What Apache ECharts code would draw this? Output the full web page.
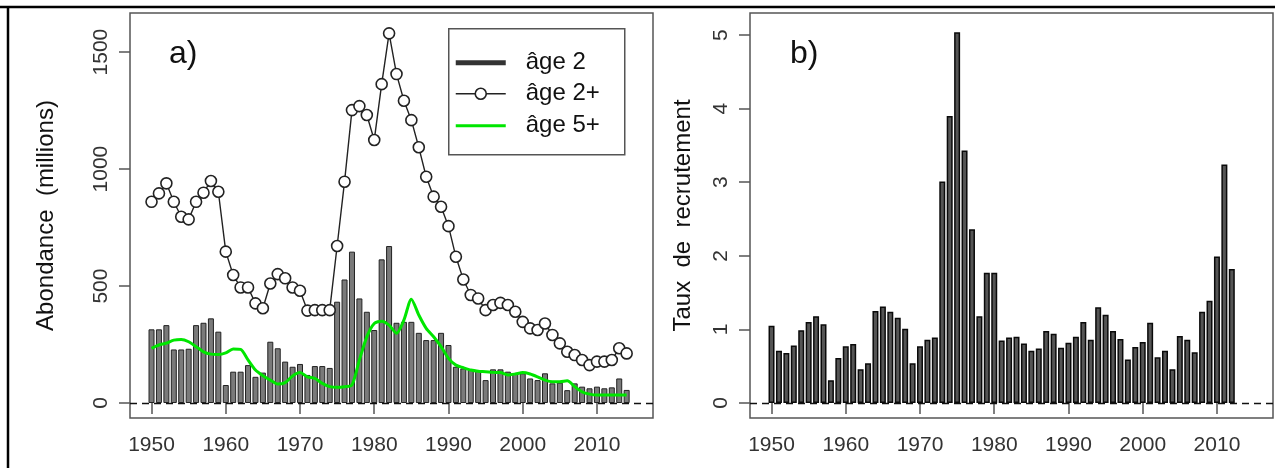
<!DOCTYPE html>
<html>
<head>
<meta charset="utf-8">
<script src="https://cdn.jsdelivr.net/npm/echarts@6/dist/echarts.min.js"></script>
<style>
  html, body { margin: 0; padding: 0; background: #fff; }
  #chart { width: 1275px; height: 468px; }
</style>
</head>
<body>
<div id="chart"></div>
<script type="text/javascript">
// abondance, 1950 -> 2014
var firstYear = 1950;
var age2 = [315, 315, 333, 229, 229, 232, 333, 343, 362, 305,
            77, 134, 134, 162, 112, 130, 262, 234, 177, 155,
            167, 120, 158, 158, 150, 433, 528, 647, 447, 390,
            312, 614, 671, 343, 347, 347, 300, 269, 269, 300,
            248, 155, 148, 141, 141, 98, 144, 144, 134, 127,
            127, 105, 98, 127, 84, 87, 55, 84, 70, 63,
            70, 63, 67, 105, 56];
var age2plus = [860, 896, 939, 860, 796, 785, 860, 899, 949, 903,
                647, 547, 494, 494, 426, 405, 511, 551, 533, 494,
                480, 395, 397, 397, 397, 671, 946, 1252, 1269, 1231,
                1124, 1363, 1580, 1406, 1292, 1209, 1093, 967, 882, 839,
                756, 625, 528, 462, 447, 397, 419, 428, 419, 390,
                347, 319, 312, 340, 291, 255, 219, 205, 184, 162,
                177, 177, 184, 234, 212];
var age5plus = [234, 248, 256, 269, 272, 262, 241, 219, 209, 207,
                214, 231, 229, 184, 141, 117, 98, 81, 87, 116,
                130, 112, 105, 84, 70, 67, 70, 77, 184, 283,
                340, 350, 333, 298, 355, 444, 376, 319, 283, 241,
                191, 162, 151, 141, 136, 134, 131, 130, 120, 124,
                130, 124, 112, 98, 91, 91, 95, 70, 48, 38,
                34, 34, 34, 34, 34];
// taux de recrutement, 1950 -> 2012
var taux = [1.05, 0.71, 0.68, 0.78, 0.99, 1.10, 1.18, 1.07, 0.31, 0.61,
            0.77, 0.80, 0.46, 0.54, 1.25, 1.31, 1.24, 1.16, 1.01, 0.54,
            0.77, 0.86, 0.89, 3.01, 3.90, 5.04, 3.43, 2.36, 1.18, 1.77,
            1.77, 0.85, 0.89, 0.90, 0.81, 0.71, 0.74, 0.98, 0.94, 0.75,
            0.82, 0.90, 1.10, 0.86, 1.30, 1.20, 0.98, 0.87, 0.59, 0.76,
            0.83, 1.09, 0.62, 0.71, 0.46, 0.91, 0.86, 0.69, 1.24, 1.39,
            1.99, 3.24, 1.82];
var yearTicks = [1950, 1960, 1970, 1980, 1990, 2000, 2010];
var abTicks = [0, 500, 1000, 1500];
var tauxTicks = [0, 1, 2, 3, 4, 5];

function pairs(vals) {
  var out = [];
  for (var i = 0; i < vals.length; i++) out.push([firstYear + i, vals[i]]);
  return out;
}
function plain(v) { return String(v); }

var font = 'Liberation Sans, Arial, sans-serif';
var chart = echarts.init(document.getElementById('chart'));

function xAx(idx) {
  return {
    type: 'value', gridIndex: idx, min: 1947.1, max: 2017.55,
    axisLine: { show: false },
    splitLine: { show: false },
    axisTick: { show: true, length: 11, customValues: yearTicks,
                lineStyle: { color: '#555', width: 1.5 } },
    axisLabel: { customValues: yearTicks, formatter: plain, margin: 17, fontSize: 21,
                 color: '#333', fontFamily: font }
  };
}
function yAx(idx, mn, mx, ticks, name, gap) {
  return {
    type: 'value', gridIndex: idx, min: mn, max: mx,
    name: name, nameLocation: 'middle', nameRotate: 90, nameGap: gap,
    nameTextStyle: { fontSize: 24, color: '#111', fontFamily: font },
    axisLine: { show: false },
    splitLine: { show: false },
    axisTick: { show: true, length: 11, customValues: ticks,
                lineStyle: { color: '#555', width: 1.5 } },
    axisLabel: { customValues: ticks, formatter: plain, rotate: 90, margin: 18, fontSize: 21,
                 color: '#333', fontFamily: font }
  };
}
var zeroLine = {
  silent: true, symbol: ['none', 'none'], label: { show: false },
  lineStyle: { color: '#111', type: [7, 5], width: 1.3 },
  data: [{ yAxis: 0 }]
};

var theoption = {
  animation: false,
  grid: [
    { left: 130, right: 622, top: 13, bottom: 50, show: true,
      borderColor: '#555', borderWidth: 1.5 },
    { left: 750, right: 2, top: 13, bottom: 50, show: true,
      borderColor: '#555', borderWidth: 1.5 }
  ],
  xAxis: [xAx(0), xAx(1)],
  yAxis: [
    yAx(0, -64, 1667, abTicks, 'Abondance  (millions)', 72),
    yAx(1, -0.204, 5.3, tauxTicks, 'Taux  de  recrutement', 55)
  ],
  series: [
    {
      name: 'âge 2', type: 'bar', xAxisIndex: 0, yAxisIndex: 0,
      barWidth: 6, data: pairs(age2),
      itemStyle: { color: '#7a7a7a', borderColor: '#222', borderWidth: 1 },
      markLine: zeroLine
    },
    {
      name: 'âge 2+', type: 'line', xAxisIndex: 0, yAxisIndex: 0,
      data: pairs(age2plus), symbol: 'circle', symbolSize: 11,
      lineStyle: { color: '#222', width: 1.4 },
      itemStyle: { color: '#fff', borderColor: '#222', borderWidth: 1.6 },
      z: 3
    },
    {
      name: 'âge 5+', type: 'line', xAxisIndex: 0, yAxisIndex: 0,
      data: pairs(age5plus), symbol: 'none', smooth: 0.25,
      lineStyle: { color: '#00e600', width: 3 },
      z: 4
    },
    {
      name: 'taux', type: 'bar', xAxisIndex: 1, yAxisIndex: 1,
      barWidth: 6, data: pairs(taux),
      itemStyle: { color: '#555', borderColor: '#0a0a0a', borderWidth: 1.5 },
      markLine: zeroLine
    }
  ],
  graphic: [
    // cadre exterieur
    { type: 'line', shape: { x1: 0, y1: 7, x2: 1275, y2: 7 },
      style: { stroke: '#000', lineWidth: 2.5 } },
    { type: 'line', shape: { x1: 8, y1: 7, x2: 8, y2: 468 },
      style: { stroke: '#000', lineWidth: 2.5 } },
    { type: 'text', left: 169, top: 38,
      style: { text: 'a)', fontSize: 32, fill: '#111', fontFamily: font } },
    { type: 'text', left: 790, top: 38,
      style: { text: 'b)', fontSize: 32, fill: '#111', fontFamily: font } },
    // legende
    { type: 'group', left: 448, top: 28, children: [
      { type: 'rect', shape: { x: 0, y: 0, width: 176, height: 126 },
        style: { fill: '#fff', stroke: '#555', lineWidth: 1.5 } },
      { type: 'line', shape: { x1: 7, y1: 34, x2: 57, y2: 34 },
        style: { stroke: '#333', lineWidth: 5 } },
      { type: 'line', shape: { x1: 7, y1: 65, x2: 57, y2: 65 },
        style: { stroke: '#222', lineWidth: 1.4 } },
      { type: 'circle', shape: { cx: 32, cy: 65, r: 5.5 },
        style: { fill: '#fff', stroke: '#222', lineWidth: 1.6 } },
      { type: 'line', shape: { x1: 7, y1: 97, x2: 57, y2: 97 },
        style: { stroke: '#00e600', lineWidth: 3 } },
      { type: 'text', x: 77, y: 34,
        style: { text: 'âge 2', fontSize: 24, fill: '#111', fontFamily: font, verticalAlign: 'middle' } },
      { type: 'text', x: 77, y: 65,
        style: { text: 'âge 2+', fontSize: 24, fill: '#111', fontFamily: font, verticalAlign: 'middle' } },
      { type: 'text', x: 77, y: 97,
        style: { text: 'âge 5+', fontSize: 24, fill: '#111', fontFamily: font, verticalAlign: 'middle' } }
    ] }
  ]
};
chart.setOption(theoption);
</script>
</body>
</html>
